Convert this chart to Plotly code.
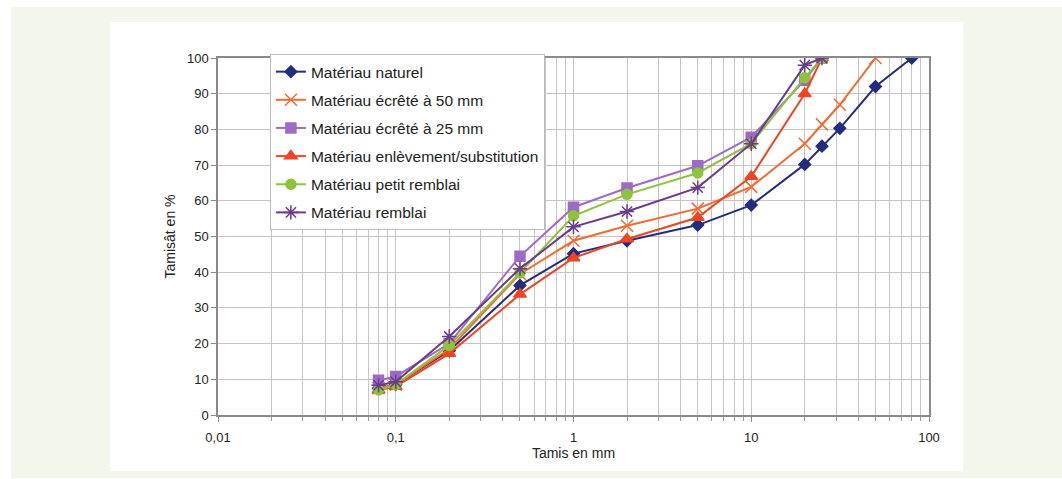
import plotly.graph_objects as go

# Sieve sizes (mm)
x_naturel = [0.08, 0.1, 0.2, 0.5, 1, 2, 5, 10, 20, 25, 31.5, 50, 80]
y_naturel = [7.5, 8.5, 18, 36.3, 45.2, 48.8, 53.2, 58.8, 70.2, 75.3, 80.3, 92, 100]

x_ecrete50 = [0.08, 0.1, 0.2, 0.5, 1, 2, 5, 10, 20, 25, 31.5, 50]
y_ecrete50 = [7.5, 8.5, 18.5, 39.5, 48.8, 53, 57.8, 63.9, 76, 81.4, 86.9, 100]

x_ecrete25 = [0.08, 0.1, 0.2, 0.5, 1, 2, 5, 10, 20, 25]
y_ecrete25 = [9.7, 10.8, 20, 44.5, 58.2, 63.6, 69.8, 77.8, 93.8, 100]

x_enlevement = [0.08, 0.1, 0.2, 0.5, 1, 2, 5, 10, 20, 25]
y_enlevement = [7, 8, 17.2, 33.8, 44, 49.3, 55.3, 66.8, 90, 100]

x_petit = [0.08, 0.1, 0.2, 0.5, 1, 2, 5, 10, 20, 25]
y_petit = [7, 8.5, 19.5, 39.8, 55.8, 61.8, 67.8, 76, 94.5, 100]

x_remblai = [0.08, 0.1, 0.2, 0.5, 1, 2, 5, 10, 20, 25]
y_remblai = [8.3, 9.3, 22, 41, 52.7, 57, 63.7, 76, 98, 100]

series_names = [
    "Matériau naturel",
    "Matériau écrêté à 50 mm",
    "Matériau écrêté à 25 mm",
    "Matériau enlèvement/substitution",
    "Matériau petit remblai",
    "Matériau remblai",
]

x_tickvals = [0.01, 0.1, 1, 10, 100]
x_ticktext = ["0,01", "0,1", "1", "10", "100"]
x_minorvals = [m * d for d in [0.01, 0.1, 1, 10] for m in range(2, 10)]
y_tickvals = [0, 10, 20, 30, 40, 50, 60, 70, 80, 90, 100]

styles = [
    dict(color="#242C7E", symbol="diamond", size=9),
    dict(color="#F26B30", symbol="x-thin-open", size=12),
    dict(color="#9E6BC4", symbol="square", size=10),
    dict(color="#EE4523", symbol="triangle-up", size=11),
    dict(color="#8CC43C", symbol="circle", size=10),
    dict(color="#6A3B8C", symbol="asterisk-open", size=12),
]

data = [
    (x_naturel, y_naturel),
    (x_ecrete50, y_ecrete50),
    (x_ecrete25, y_ecrete25),
    (x_enlevement, y_enlevement),
    (x_petit, y_petit),
    (x_remblai, y_remblai),
]

fig = go.Figure()
for i, ((xs, ys), name, st) in enumerate(zip(data, series_names, styles)):
    fig.add_trace(go.Scatter(
        x=xs, y=ys, name=name, mode="lines+markers",
        legendgroup=f"g{i}",
        line=dict(color=st["color"], width=2),
        marker=dict(color=st["color"], symbol=st["symbol"], size=st["size"],
                    line=dict(color=st["color"], width=1.5)),
    ))

FONT = "Liberation Sans, Arial, sans-serif"
grid_col = "#CAC3C3"

fig.update_layout(
    width=1062, height=479,
    margin=dict(l=218, r=133, t=58, b=64),
    paper_bgcolor="white",
    plot_bgcolor="white",
    font=dict(family=FONT, size=13, color="#222222"),
    showlegend=True,
    legend=dict(
        x=0.073, y=1.011, xanchor="left", yanchor="top",
        bgcolor="white", bordercolor="#BBBBBB", borderwidth=1,
        font=dict(family=FONT, size=15.5, color="#222222"),
        tracegroupgap=5, itemwidth=30,
    ),
    shapes=[
        dict(type="rect", xref="paper", yref="paper",
             x0=-0.291, x1=1.2, y0=-0.176, y1=1.143,
             fillcolor="#F3F6EA", line=dict(width=0), layer="below"),
        dict(type="rect", xref="paper", yref="paper",
             x0=-0.152, x1=1.048, y0=-0.157, y1=1.101,
             fillcolor="white", line=dict(width=0), layer="below"),
    ],
)

fig.update_xaxes(
    type="log", range=[-2, 2],
    tickvals=x_tickvals, ticktext=x_ticktext,
    showgrid=True, gridcolor=grid_col, gridwidth=1,
    minor=dict(tickvals=x_minorvals, showgrid=True, gridcolor=grid_col, gridwidth=1,
               ticks="outside", ticklen=4, tickcolor="#999999"),
    showline=True, linecolor="#8A8A8A", linewidth=1.5, mirror=True,
    ticks="outside", ticklen=5, tickcolor="#8A8A8A",
    ticklabelstandoff=5,
    tickfont=dict(size=13, family=FONT, color="#222222"),
    title=dict(text="Tamis en mm", font=dict(size=14, family=FONT, color="#222222"), standoff=0),
    zeroline=False,
)
fig.update_yaxes(
    range=[0, 100], tickvals=y_tickvals,
    showgrid=True, gridcolor=grid_col, gridwidth=1,
    showline=True, linecolor="#8A8A8A", linewidth=1.5, mirror=True,
    ticks="outside", ticklen=5, tickcolor="#8A8A8A",
    tickfont=dict(size=13, family=FONT, color="#222222"),
    title=dict(text="Tamisât en %", font=dict(size=14, family=FONT, color="#222222"), standoff=8),
    zeroline=False,
)

fig.write_html("out.html")
